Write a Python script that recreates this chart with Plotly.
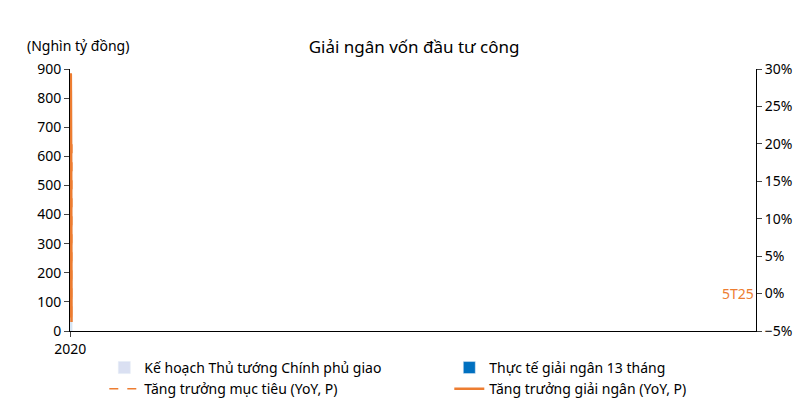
import plotly.graph_objects as go

nam = ['2020', '2021', '2022', '2023', '2024', '2025']
ke_hoach = [465, 462, 580, 706, 683, 826]
thuc_te = [453, 440, 566, 662, 636, 198]
nam_tt = ['2021', '2022', '2023', '2024', '2025']
tang_truong_muc_tieu = [-1.2, 27.3, 22.0, -3.6, 21.0]
nam_gn = ['2021', '2022', '2023', '2024']
tang_truong_giai_ngan = [-3.2, 29.3, 17.0, -3.8]

cam = '#ed7d31'
fig = go.Figure()

fig.add_trace(go.Bar(x=nam, y=ke_hoach, name='Kế hoạch Thủ tướng Chính phủ giao',
                     marker_color='#dae0f2'))
fig.add_trace(go.Bar(x=nam, y=thuc_te, name='Thực tế giải ngân 13 tháng',
                     marker_color='#0070c0'))
fig.add_trace(go.Scatter(x=nam_tt, y=tang_truong_muc_tieu, yaxis='y2', mode='lines',
                         name='Tăng trưởng mục tiêu (YoY, P)',
                         line=dict(color=cam, width=1.5, dash='dash', shape='spline', smoothing=1.2)))
fig.add_trace(go.Scatter(x=nam_gn, y=tang_truong_giai_ngan, yaxis='y2', mode='lines',
                         name='Tăng trưởng giải ngân (YoY, P)',
                         line=dict(color=cam, width=2.5, shape='spline', smoothing=1.2)))

fig.add_annotation(x='2025', y=0, yref='y2', xshift=-8, text='5T25', showarrow=False,
                   font=dict(color=cam, size=14))
fig.add_annotation(xref='paper', yref='paper', x=-0.065, y=1.09, xanchor='left',
                   yanchor='middle', text='(Nghìn tỷ đồng)', showarrow=False,
                   font=dict(size=14))

fig.update_layout(
    width=812, height=412,
    font=dict(family='Noto Sans', size=13, color='black'),
    title=dict(text='Giải ngân vốn đầu tư công', x=0.5, y=0.905, xanchor='center',
               yanchor='middle', font=dict(size=17)),
    plot_bgcolor='white', paper_bgcolor='white',
    margin=dict(l=62, r=64, t=61, b=89),
    barmode='group', bargap=0.42, bargroupgap=0,
    xaxis=dict(type='category', showline=True, linecolor='black', ticks='outside',
               ticklen=5, tickfont=dict(size=14)),
    yaxis=dict(range=[0, 900], dtick=100, showline=True, linecolor='black',
               showgrid=False, ticks='outside', tickfont=dict(size=14)),
    yaxis2=dict(overlaying='y', side='right', range=[-5, 30], dtick=5, ticksuffix='%',
                showline=True, linecolor='black', showgrid=False, ticks='outside',
                zeroline=False, tickfont=dict(size=14)),
    legend=dict(orientation='h', x=0.05, y=-0.08, xanchor='left', yanchor='top',
                entrywidth=300, font=dict(size=14), tracegroupgap=0),
)

fig.write_html('out.html')
